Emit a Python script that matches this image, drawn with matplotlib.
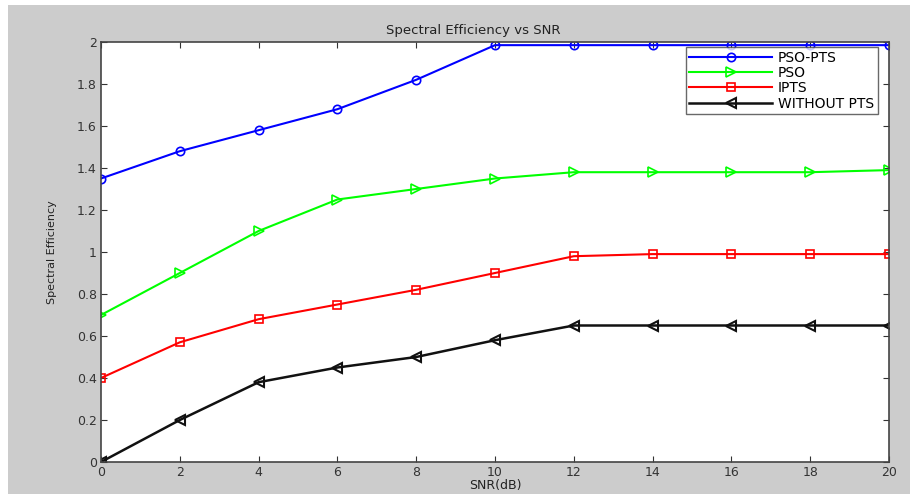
import matplotlib
matplotlib.use("Agg")
import matplotlib.pyplot as plt
from matplotlib.patches import Rectangle

snr = [0, 2, 4, 6, 8, 10, 12, 14, 16, 18, 20]
pso_pts = [1.35, 1.48, 1.58, 1.68, 1.82, 1.985, 1.985, 1.985, 1.985, 1.985, 1.985]
pso = [0.70, 0.90, 1.10, 1.25, 1.30, 1.35, 1.38, 1.38, 1.38, 1.38, 1.39]
ipts = [0.40, 0.57, 0.68, 0.75, 0.82, 0.90, 0.98, 0.99, 0.99, 0.99, 0.99]
without_pts = [0.00, 0.20, 0.38, 0.45, 0.50, 0.58, 0.65, 0.65, 0.65, 0.65, 0.65]
labels = ["PSO-PTS", "PSO", "IPTS", "WITHOUT PTS"]
yticks = [0, 0.2, 0.4, 0.6, 0.8, 1, 1.2, 1.4, 1.6, 1.8, 2]
ytick_labels = ["0", "0.2", "0.4", "0.6", "0.8", "1", "1.2", "1.4", "1.6", "1.8", "2"]

plt.rcParams['font.family'] = ['DejaVu Sans']
W, H = 910, 499
fig = plt.figure(figsize=(W / 100, H / 100), dpi=100, facecolor='white')
fig.patches.append(Rectangle((8 / W, 1 - 494 / H), (910 - 8) / W, (494 - 5) / H,
                             transform=fig.transFigure, facecolor='#cccccc',
                             edgecolor='none', zorder=-10))
ax = fig.add_axes([101 / W, 1 - 462 / H, (889 - 101) / W, (462 - 42) / H])
ax.set_facecolor('white')

ax.plot(snr, pso_pts, color='#0000ff', marker='o', mfc='none', ms=6, lw=1.5, mew=1.2, label=labels[0])
ax.plot(snr, pso, color='#00ff00', marker='>', mfc='none', ms=7, lw=1.5, mew=1.2, label=labels[1])
ax.plot(snr, ipts, color='#ff0000', marker='s', mfc='none', ms=6, lw=1.5, mew=1.2, label=labels[2])
ax.plot(snr, without_pts, color='#111111', marker='<', mfc='none', ms=7, lw=1.8, mew=1.5, label=labels[3])

ax.set_xlim(0, 20)
ax.set_ylim(0, 2)
ax.set_xticks(snr)
ax.set_yticks(yticks)
ax.set_yticklabels(ytick_labels)
ax.tick_params(direction='in', length=4, labelsize=9, colors='#333333', top=True, right=True, pad=3)
for s in ax.spines.values():
    s.set_color('#444444')
    s.set_linewidth(1.2)

ax.set_title("Spectral Efficiency vs SNR", fontsize=9.5, color='#222222', pad=6, x=0.472)
ax.set_xlabel("SNR(dB)", fontsize=9, color='#222222', labelpad=0)
ax.set_ylabel("Spectral Efficiency", fontsize=8, color='#222222', labelpad=14)

leg = ax.legend(loc='upper right', bbox_to_anchor=(0.9855, 0.988), fontsize=10, frameon=True,
                fancybox=False, edgecolor='#444444', handlelength=6.0, borderpad=0.25,
                labelspacing=0.1, handletextpad=0.4, borderaxespad=0)
leg.get_frame().set_linewidth(1.0)

fig.savefig("out.png", dpi=100, facecolor=fig.get_facecolor())
